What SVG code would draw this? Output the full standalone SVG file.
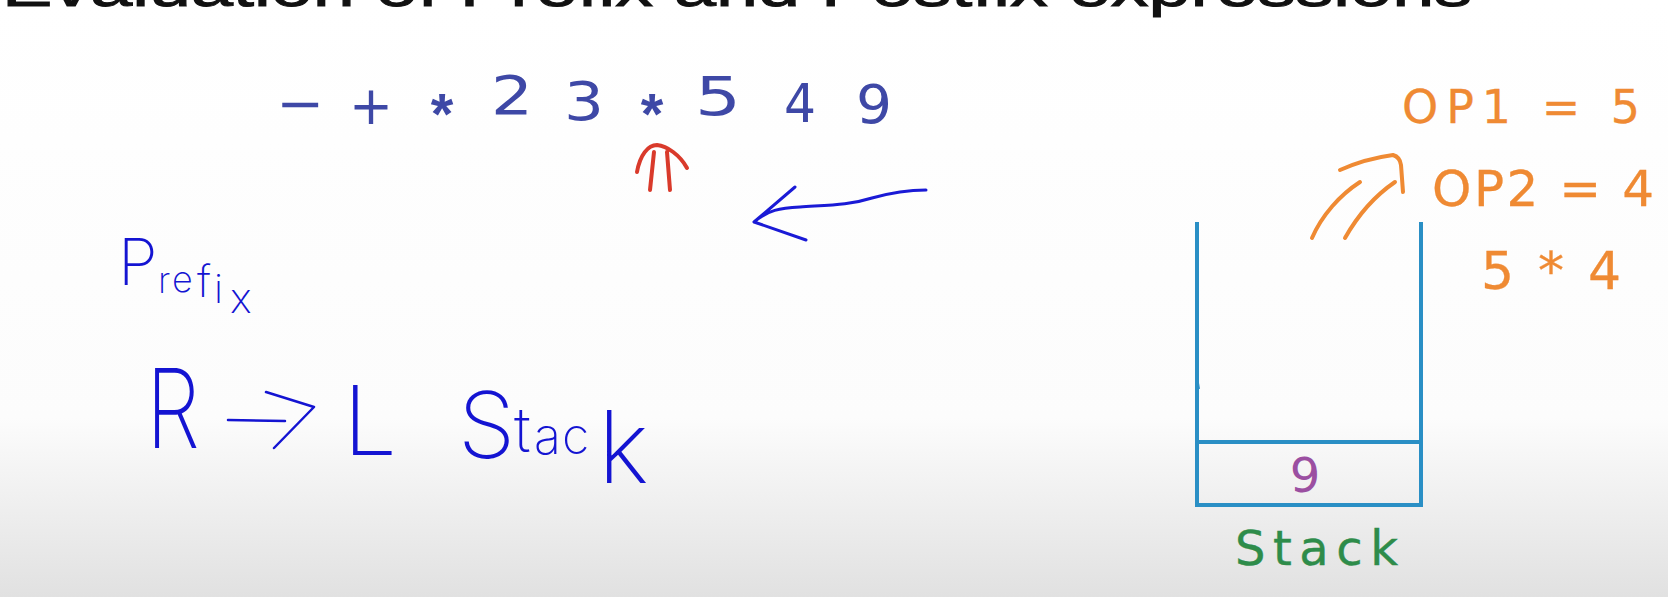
<svg xmlns="http://www.w3.org/2000/svg" width="1668" height="597" viewBox="0 0 1668 597">
<defs>
<linearGradient id="bg" x1="0" y1="0" x2="0" y2="1">
<stop offset="0" stop-color="#ffffff"/>
<stop offset="0.70" stop-color="#fcfcfc"/>
<stop offset="1" stop-color="#e1e1e1"/>
</linearGradient>
<style>
.title{font-family:"Liberation Sans",sans-serif;font-size:54px;fill:#111;stroke:#111;stroke-width:1}
.expr{font-family:"DejaVu Sans","Liberation Sans",sans-serif;font-size:54px;fill:#3e48a6;text-anchor:middle}
.star{font-family:"Liberation Sans",sans-serif;font-weight:bold;font-size:58px;fill:#3e48a6;text-anchor:middle}
.hand{font-family:Inter,"Open Sans","DejaVu Sans",sans-serif;font-weight:200;fill:#1414d2}
.orange{font-family:"DejaVu Sans","Liberation Sans",sans-serif;fill:#ef8a33;stroke:#ef8a33;stroke-width:0.3}
.pen{fill:none;stroke-linecap:round;stroke-linejoin:round}
.stk{fill:none;stroke:#2a8fc5;stroke-width:4}
</style>
</defs>
<rect width="1668" height="597" fill="url(#bg)"/>

<g id="title">
<text class="title" x="2" y="6" textLength="1470" lengthAdjust="spacingAndGlyphs">Evaluation of Prefix and Postfix expressions</text>
</g>

<g id="expression">
<text class="expr" x="300" y="122" textLength="48" lengthAdjust="spacingAndGlyphs">−</text>
<text class="expr" x="371" y="124" textLength="44" lengthAdjust="spacingAndGlyphs">+</text>
<text class="star" x="442" y="134">*</text>
<text class="expr" x="512" y="114" textLength="42" lengthAdjust="spacingAndGlyphs">2</text>
<text class="expr" x="584" y="120" textLength="40" lengthAdjust="spacingAndGlyphs">3</text>
<text class="star" x="652" y="134">*</text>
<text class="expr" x="718" y="115" textLength="46" lengthAdjust="spacingAndGlyphs">5</text>
<text class="expr" x="800" y="122" textLength="32" lengthAdjust="spacingAndGlyphs">4</text>
<text class="expr" x="874" y="123" textLength="36" lengthAdjust="spacingAndGlyphs">9</text>
</g>

<g id="prefix-label">
<text class="hand"><tspan x="118" y="285" font-size="64">P</tspan><tspan x="158" y="293" font-size="36">r</tspan><tspan x="172" y="292" font-size="36">e</tspan><tspan x="197" y="297" font-size="44">f</tspan><tspan x="214" y="303" font-size="40">i</tspan><tspan x="230" y="313" font-size="42">x</tspan></text>
</g>

<g id="rule-label">
<text class="hand" x="146" y="448" font-size="110" textLength="54" lengthAdjust="spacingAndGlyphs">R</text>
<text class="hand" x="343" y="455" font-size="96">L</text>
<text class="hand"><tspan x="458" y="458" font-size="92">S</tspan><tspan x="514" y="452" font-size="62">t</tspan><tspan x="534" y="454" font-size="50">a</tspan><tspan x="562" y="454" font-size="50">c</tspan><tspan x="598" y="483" font-size="100">k</tspan></text>
</g>

<g id="stack">
<path class="stk" d="M1197,222 V505 H1421 V222 M1197,442 H1421"/>
<path d="M1198,383 l1,6" stroke="#2a8fc5" stroke-width="2"/>
<text x="1305" y="492" font-family="DejaVu Sans,Liberation Sans,sans-serif" font-size="48" fill="#9b4fa1" text-anchor="middle">9</text>
<text x="1235" y="565" font-family="DejaVu Sans,Liberation Sans,sans-serif" font-size="48" fill="#2e8c4a" stroke="#2e8c4a" stroke-width="0.4" textLength="163" lengthAdjust="spacing">Stack</text>
</g>

<g id="operands">
<text class="orange" x="1402" y="123" font-size="46" textLength="238" lengthAdjust="spacing">OP1 = 5</text>
<text class="orange" x="1432" y="206" font-size="50" textLength="222" lengthAdjust="spacing">OP2 = 4</text>
<text class="orange" x="1481" y="289" font-size="52" textLength="140" lengthAdjust="spacing">5*4</text>
</g>

<g id="connectors">
<path class="pen" stroke="#d93a2b" stroke-width="4" d="M637,172 C640,155 648,145 657,145 C667,146 680,155 687,168 M650,190 L654,152 M670,190 L667,152"/>
<path class="pen" stroke="#1a1ad6" stroke-width="3" d="M926,190 C905,190 890,193 872,198 C850,205 830,205 800,207 C780,208 768,210 754,222 M795,187 L754,222 L806,240"/>
<path class="pen" stroke="#1414d2" stroke-width="2.5" d="M228,420 L285,421 M266,392 L314,407 L274,448"/>
<path class="pen" stroke="#ef8a33" stroke-width="4" d="M1312,238 C1322,215 1340,195 1360,182 M1345,238 C1358,215 1376,195 1395,182 M1340,170 C1358,162 1378,157 1393,155 Q1400,157 1401,165 L1403,192"/>
</g>
</svg>
